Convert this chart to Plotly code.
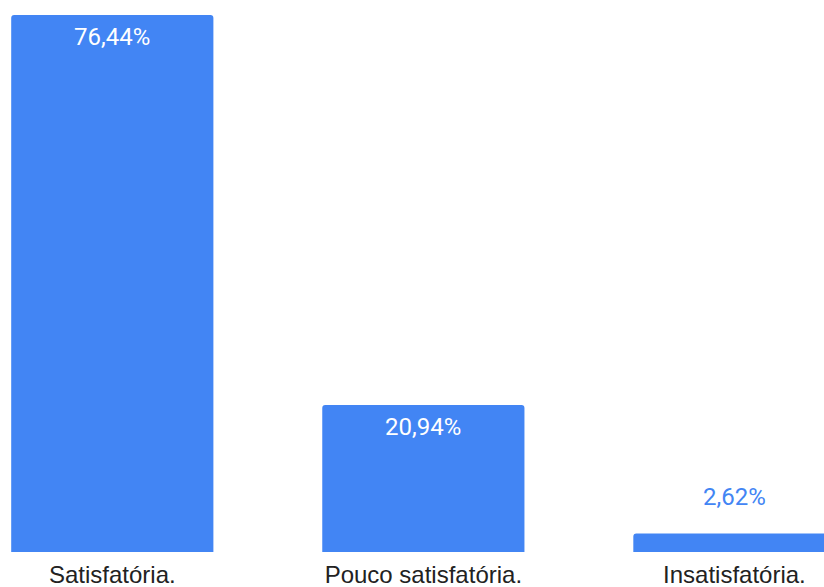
import plotly.graph_objects as go

# Survey answers and their shares (%)
categories = ["Satisfatória.", "Pouco satisfatória.", "Insatisfatória."]
values = [76.44, 20.94, 2.62]
value_labels = ["76,44%", "20,94%", "2,62%"]

BAR_BLUE = "#4285F4"

fig = go.Figure(
    go.Bar(
        x=list(range(len(categories))),
        y=values,
        marker=dict(color=BAR_BLUE, line=dict(width=0)),
        hoverinfo="skip",
    )
)

# Value labels: inside the top of tall bars, above short ones
for i, (v, lab) in enumerate(zip(values, value_labels)):
    inside = v > 10
    fig.add_annotation(
        x=i,
        y=v,
        text=lab,
        showarrow=False,
        xanchor="center",
        yanchor="top" if inside else "bottom",
        yshift=-6 if inside else 21,
        font=dict(family="Roboto", size=24,
                  color="white" if inside else BAR_BLUE),
    )

fig.update_layout(
    width=824,
    height=587,
    margin=dict(l=0, r=0, t=0, b=35),
    paper_bgcolor="white",
    plot_bgcolor="white",
    bargap=0.35,
    barcornerradius=3,
    showlegend=False,
    xaxis=dict(
        range=[-0.361, 2.288],
        tickmode="array",
        tickvals=list(range(len(categories))),
        ticktext=categories,
        tickfont=dict(family="Liberation Sans, Arial", size=24, color="#222222"),
        ticklabelstandoff=6,
        showgrid=False,
        zeroline=False,
        showline=False,
        ticks="",
        fixedrange=True,
    ),
    yaxis=dict(
        range=[0, 78.58],
        visible=False,
        fixedrange=True,
    ),
)

fig.write_html("out.html", config={"displayModeBar": False})
